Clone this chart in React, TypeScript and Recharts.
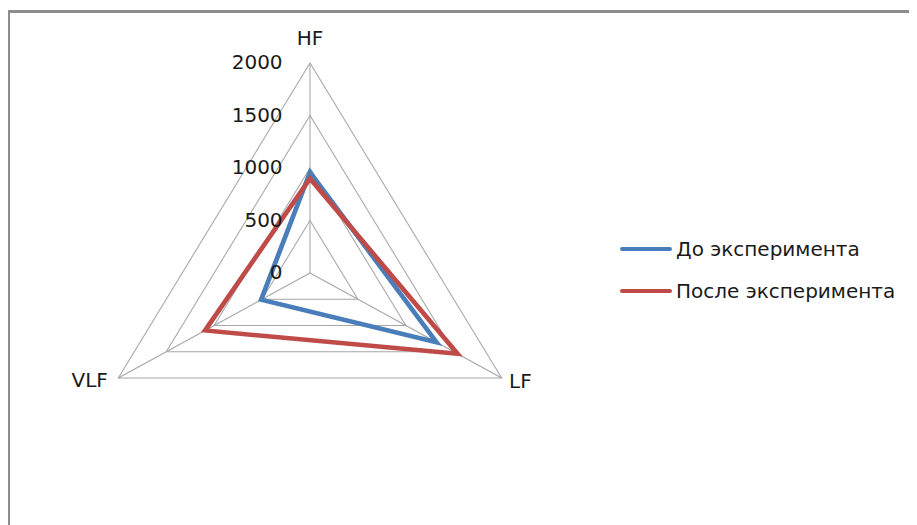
import {
  PolarAngleAxis,
  PolarGrid,
  PolarRadiusAxis,
  Radar,
  RadarChart
} from "recharts";

const bands = ["HF", "LF", "VLF"];
const before = [960, 1320, 510];
const after = [900, 1540, 1095];
const radiusTicks = [0, 500, 1000, 1500, 2000];

const seriesInfo = [
  { key: "before", name: "До эксперимента", color: "#4a7ebb" },
  { key: "after", name: "После эксперимента", color: "#be4b48" }
];

const data = bands.map((band, i) => ({
  band,
  before: before[i],
  after: after[i]
}));

const FONT = "'DejaVu Sans', Verdana, sans-serif";
const TEXT = "#1a1a1a";
// the plot area is a little wider than tall, so the svg gets stretched
// horizontally and every label is squeezed back by the same factor
const SX = 1.054;
const CX = 310;
const CY = 273;

function RadiusTick(props: any) {
  const { x, y, payload } = props;
  return (
    <text
      transform={`translate(${x - 26},${y - 1}) scale(${1 / SX},1)`}
      textAnchor="end"
      dominantBaseline="central"
      fontSize={20}
      fontFamily={FONT}
      fill={TEXT}
    >
      {payload.value}
    </text>
  );
}

const angleOffsets: Record<string, [number, number]> = {
  HF: [0, -17],
  LF: [0, -1],
  VLF: [-3, -2]
};

function AngleTick(props: any) {
  const { x, y, payload, textAnchor } = props;
  const [dx, dy] = angleOffsets[payload.value] ?? [0, 0];
  return (
    <text
      transform={`translate(${x + dx},${y + dy}) scale(${1 / SX},1)`}
      textAnchor={textAnchor}
      dominantBaseline="central"
      fontSize={20}
      fontFamily={FONT}
      fill={TEXT}
    >
      {payload.value}
    </text>
  );
}

function LegendBox() {
  return (
    <div
      style={{
        position: "absolute",
        left: 620,
        top: 228,
        fontFamily: FONT,
        fontSize: 20,
        color: TEXT
      }}
    >
      {seriesInfo.map((s) => (
        <div
          key={s.key}
          style={{ display: "flex", alignItems: "center", height: 42 }}
        >
          <span
            style={{
              display: "inline-block",
              width: 52,
              height: 4,
              borderRadius: 2,
              background: s.color,
              marginRight: 4
            }}
          />
          <span>{s.name}</span>
        </div>
      ))}
    </div>
  );
}

export default function App() {
  return (
    <div
      style={{
        position: "relative",
        width: 917,
        height: 525,
        marginLeft: -8,
        marginTop: -8,
        background: "#fff",
        overflow: "hidden"
      }}
    >
      <div
        style={{
          position: "absolute",
          left: 0,
          top: 0,
          transform: `scaleX(${SX})`,
          transformOrigin: `${CX}px ${CY}px`
        }}
      >
        <RadarChart
          width={917}
          height={525}
          data={data}
          cx={CX}
          cy={CY}
          outerRadius={210}
        >
          <PolarGrid gridType="polygon" stroke="#a6a6a6" strokeWidth={1} />
          <PolarAngleAxis
            dataKey="band"
            tick={<AngleTick />}
            tickLine={false}
            axisLine={false}
          />
          <PolarRadiusAxis
            angle={90}
            domain={[0, 2000]}
            ticks={radiusTicks}
            tickCount={5}
            axisLine={false}
            tick={<RadiusTick />}
          />
          {seriesInfo.map((s) => (
            <Radar
              key={s.key}
              dataKey={s.key}
              name={s.name}
              stroke={s.color}
              strokeWidth={4.5}
              fill="none"
              fillOpacity={0}
              isAnimationActive={false}
            />
          ))}
        </RadarChart>
      </div>
      <LegendBox />
      <div
        style={{
          position: "absolute",
          left: 7,
          top: 10,
          width: 940,
          height: 560,
          border: "3px solid #8c8c8c",
          boxSizing: "border-box",
          pointerEvents: "none"
        }}
      />
    </div>
  );
}
